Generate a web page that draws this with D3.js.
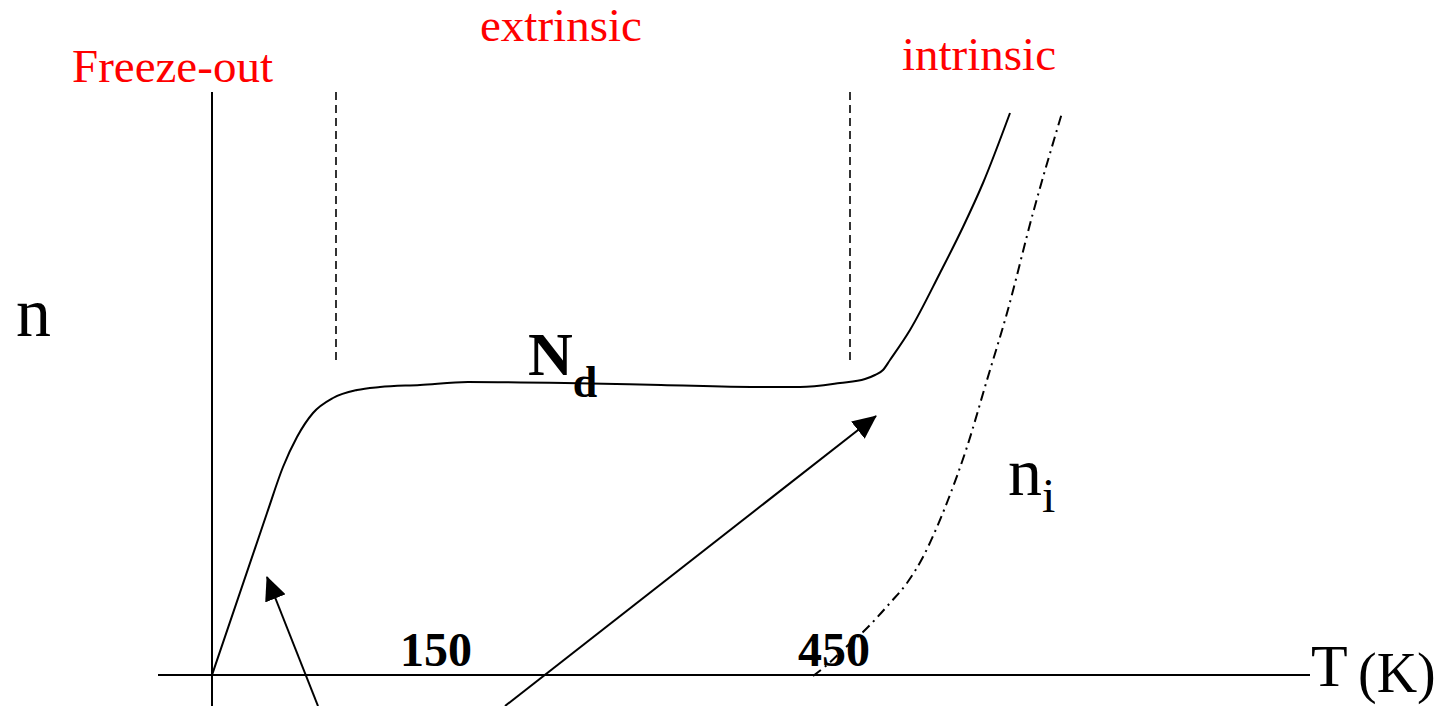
<!DOCTYPE html>
<html>
<head>
<meta charset="utf-8">
<script src="https://cdn.jsdelivr.net/npm/d3@7"></script>
<style>
  body { margin: 0; background: #fff; }
  svg { display: block; }
  text { font-family: "Liberation Serif", "Times New Roman", serif; }
  .curve { fill: none; stroke: #000; stroke-width: 2; }
  .axisline { stroke: #000; stroke-width: 2; }
  .region { stroke: #000; stroke-width: 1.6; stroke-dasharray: 8,5; }
  .arrow { stroke: #000; stroke-width: 2; }
  .red { fill: #ff0000; }
</style>
</head>
<body>
<script>
const width = 1456
    , height = 706;

// carrier concentration vs temperature, schematic units
const ndT = [0, 55, 71, 85, 101, 121, 145, 168, 208, 256, 353, 449, 545, 588, 628, 653, 663, 671, 678, 698, 728, 751, 771, 798];
const ndN = [0, 162, 208, 238, 262, 277, 285, 288, 290, 293, 292, 290, 288, 288, 292, 296, 300, 305, 315, 345, 402, 448, 492, 562];

const niT = [601, 615, 633, 651, 678, 695, 711, 725, 736, 755, 775, 795, 821, 850];
const niN = [-1, 10, 27, 43, 72, 92, 118, 148, 175, 228, 295, 362, 462, 562];

// region boundaries and tick labels
const boundaryT = [124, 638];
const tickLabels = ["150", "450"];
const regionLabels = ["Freeze-out", "extrinsic", "intrinsic"];

// arrows: [tail T, tail n, head T, head n]
const arrows = [
    [106, -31, 55, 98],
    [293, -31, 664, 259]
];

var x = d3.scaleLinear()
    .domain([0, 1100])
    .range([212, 1312]);
var y = d3.scaleLinear()
    .domain([0, 600])
    .range([675, 75]);

var line = d3.line()
    .x(function(d) { return x(d[0]); })
    .y(function(d) { return y(d[1]); })
    .curve(d3.curveMonotoneX);

var svg = d3.select("body").append("svg")
    .attr("width", width)
    .attr("height", height);

svg.append("defs").append("marker")
    .attr("id", "head")
    .attr("markerUnits", "userSpaceOnUse")
    .attr("viewBox", "0 -11 24 22")
    .attr("refX", 23)
    .attr("refY", 0)
    .attr("markerWidth", 24)
    .attr("markerHeight", 22)
    .attr("orient", "auto")
    .append("path")
    .attr("d", "M0,-11L24,0L0,11Z")
    .attr("fill", "#000");

// axes
svg.append("line")
    .attr("class", "axisline")
    .attr("x1", x(-54)).attr("x2", x(1098))
    .attr("y1", y(0)).attr("y2", y(0));
svg.append("line")
    .attr("class", "axisline")
    .attr("x1", x(0)).attr("x2", x(0))
    .attr("y1", y(583)).attr("y2", y(-31));

// region boundaries
svg.selectAll(".region")
    .data(boundaryT)
    .enter()
    .append("line")
    .attr("class", "region")
    .attr("x1", d => x(d)).attr("x2", d => x(d))
    .attr("y1", y(583)).attr("y2", y(313));

// curves
svg.append("path")
    .datum(ndT.map((t, i) => [t, ndN[i]]))
    .attr("class", "curve")
    .attr("d", line);

svg.append("path")
    .datum(niT.map((t, i) => [t, niN[i]]))
    .attr("class", "curve")
    .attr("stroke-width", 1.7)
    .attr("stroke-dasharray", "10,5,2,5")
    .attr("d", line);

// arrows
svg.selectAll(".arrow")
    .data(arrows)
    .enter()
    .append("line")
    .attr("class", "arrow")
    .attr("x1", d => x(d[0])).attr("y1", d => y(d[1]))
    .attr("x2", d => x(d[2])).attr("y2", d => y(d[3]))
    .attr("marker-end", "url(#head)");

// region labels
var regionPos = [[-140, 593, 47], [268, 634, 47], [690, 605, 47]];
svg.selectAll(".rlabel")
    .data(regionLabels)
    .enter()
    .append("text")
    .attr("class", "red")
    .attr("x", (d, i) => x(regionPos[i][0]))
    .attr("y", (d, i) => y(regionPos[i][1]))
    .style("font-size", (d, i) => regionPos[i][2] + "px")
    .text(d => d);

// tick labels
var tickPos = [188, 586];
svg.selectAll(".tlabel")
    .data(tickLabels)
    .enter()
    .append("text")
    .attr("x", (d, i) => x(tickPos[i]))
    .attr("y", y(9))
    .style("font-size", "48px")
    .style("font-weight", "bold")
    .text(d => d);

// axis titles
svg.append("text")
    .attr("x", x(-196)).attr("y", y(339))
    .style("font-size", "70px")
    .text("n");

svg.append("text")
    .attr("x", x(1099)).attr("y", y(-11))
    .style("font-size", "60px")
    .text("T");
svg.append("text")
    .attr("x", x(1146)).attr("y", y(-17))
    .style("font-size", "56px")
    .text("(K)");

// curve labels
var nd = svg.append("text")
    .attr("x", x(316)).attr("y", y(300))
    .style("font-weight", "bold");
nd.append("tspan").style("font-size", "62px").text("N");
nd.append("tspan").attr("dy", 22).style("font-size", "44px").text("d");

var ni = svg.append("text")
    .attr("x", x(796)).attr("y", y(180));
ni.append("tspan").style("font-size", "68px").text("n");
ni.append("tspan").attr("dy", 17).style("font-size", "48px").text("i");
</script>
</body>
</html>
